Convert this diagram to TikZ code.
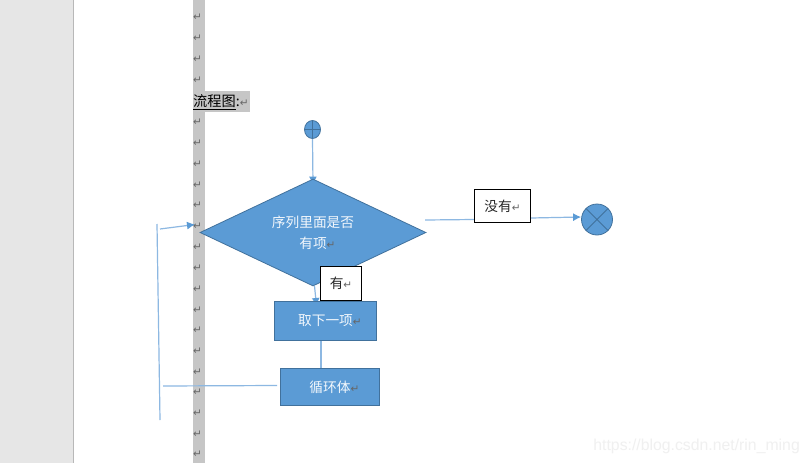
\documentclass[tikz,border=0pt]{standalone}
\usepackage{fontspec}
\setmainfont{Noto Sans CJK SC}
\newfontfamily\markfont{DejaVu Sans}
\newfontfamily\wmfont{Liberation Sans}
\usetikzlibrary{arrows.meta,shapes.geometric,backgrounds}
\definecolor{shapeblue}{HTML}{5B9BD5}
\definecolor{edgeblue}{HTML}{41719C}
\definecolor{linkblue}{HTML}{8DB8E2}
\definecolor{guttergrey}{HTML}{C6C6C6}
\definecolor{pagegrey}{HTML}{E6E6E6}
\newcommand{\retmark}{{\markfont\fontsize{10.5}{10.5}\selectfont\textcolor{black!60}{↵}}}
\newcommand{\retlap}{\rlap{\retmark}}
\tikzset{
  x=1pt,y=-1pt,
  lbl/.style={font=\fontsize{13.7}{21}\selectfont,inner sep=0pt,align=center},
  blueshape/.style={lbl,fill=shapeblue,draw=edgeblue,line width=0.8pt,text=white!92!shapeblue},
  flowbox/.style={blueshape,rectangle,minimum width=#1},
  tagbox/.style={lbl,fill=white,draw=black,line width=0.9pt,text=black!85},
  link/.style={draw=linkblue,line width=1.2pt},
  arrowlink/.style={link,-{Latex[length=8pt,width=8pt,color=shapeblue]}},
  retnode/.style={inner sep=0pt}
}
\begin{document}
\begin{tikzpicture}
\useasboundingbox (0,0) rectangle (808,463);
\begin{scope}[on background layer]
\fill[white] (0,0) rectangle (808,463);
\fill[pagegrey] (0,0) rectangle (73,463);
\draw[black!28,line width=0.7pt] (73.5,0) -- (73.5,463);
\fill[guttergrey] (193,0) rectangle (205,463);
\fill[guttergrey] (193,91) rectangle (250,112);
\end{scope}
\foreach \i/\yy in {1/17,2/38,3/59,4/80,5/122,6/143,7/164,8/185,9/205,10/226,11/247,12/268,13/289,14/310,15/330,16/351,17/372,18/392,19/413,20/434,21/454}
  \node[retnode,name=r\i] at (197.5,\yy) {\retmark};
\node[inner sep=0pt,anchor=west,font=\fontsize{14.2}{16}\selectfont] (title) at (193,102) {\underline{流程图}:\retmark};

\node[ellipse,fill=shapeblue,draw=edgeblue,line width=0.8pt,minimum width=16pt,minimum height=18pt,inner sep=0pt] (start) at (312.5,129.5) {};
\draw[edgeblue,line width=0.8pt] (start.north) -- (start.south) (start.west) -- (start.east);

\node[blueshape,diamond,shape aspect=2.11,minimum width=226pt,minimum height=107pt] (cond) at (313,232.5) {序列里面是否\\有项\retlap};

\node[flowbox=102pt,minimum height=39pt] (next) at (325.5,321) {取下一项\retlap};
\node[flowbox=99pt,minimum height=37pt] (body) at (330,387) {循环体\retlap};

\node[tagbox,minimum width=41pt,minimum height=34pt] (yes) at (341,283) {有\retmark};
\node[tagbox,minimum width=56pt,minimum height=33pt] (no) at (502.5,206) {没有\retmark};

\node[circle,fill=shapeblue,draw=edgeblue,line width=0.8pt,minimum size=31pt,inner sep=0pt] (stop) at (597,219.5) {};
\draw[edgeblue,line width=0.8pt] (stop.north west) -- (stop.south east) (stop.north east) -- (stop.south west);

\coordinate (rightout) at (425,220);
\coordinate (backend) at (163,386);
\coordinate (bartop) at (157,224);
\coordinate (barbot) at (160,420);
\coordinate (entryfrom) at (160,229);
\coordinate (entryto) at (195,224.5);
\coordinate (bodyout) at (277,385.5);
\coordinate (condbot) at (314.5,286);
\coordinate (nexttop) at (316.5,306);

\begin{scope}[on background layer]
\draw[arrowlink] (start.south) -- ([yshift=-6pt]cond.north);
\draw[link] (rightout) -- (no.west |- 0,219.5);
\draw[arrowlink] (no.east |- 0,218) -- (stop.west |- 0,217);
\draw[arrowlink] (condbot) -- (nexttop);
\draw[link] (next.south -| 321,0) -- (body.north -| 321,0);
\draw[link] (bodyout) -- (backend);
\draw[link] (bartop) -- (barbot);
\draw[arrowlink] (entryfrom) -- (entryto);
\end{scope}

\node[inner sep=0pt,anchor=east,font=\wmfont\fontsize{15.8}{18}\selectfont,text=black!6] (mark) at (800,446) {https://blog.csdn.net/rin\_ming};
\end{tikzpicture}
\end{document}
